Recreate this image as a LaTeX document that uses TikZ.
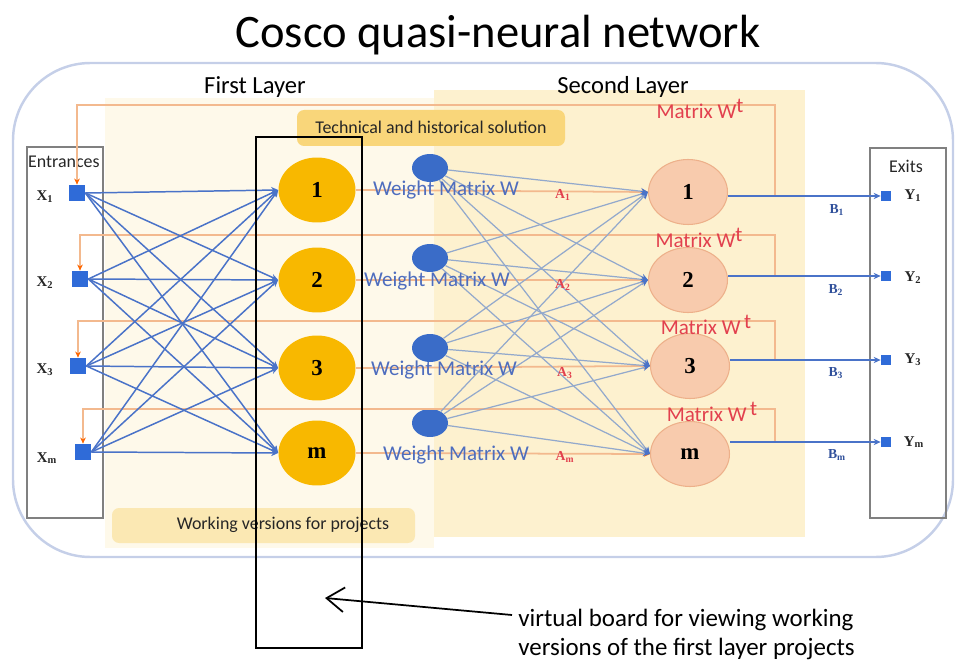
\documentclass[tikz,border=0pt]{standalone}
\usepackage{fontspec}
\setmainfont{Carlito}
\newfontfamily\numfont{Liberation Serif}
\usetikzlibrary{arrows.meta,shapes.geometric}

\definecolor{frameblue}{HTML}{C5CFE8}
\definecolor{creamA}{HTML}{FEF9EA}
\definecolor{creamB}{HTML}{FDF1CF}
\definecolor{techY}{HTML}{F9D67A}
\definecolor{workY}{HTML}{FBE8B3}
\definecolor{gold}{HTML}{F8B800}
\definecolor{peach}{HTML}{F8CBAD}
\definecolor{peachline}{HTML}{EDB08A}
\definecolor{sqblue}{HTML}{2F6BD8}
\definecolor{wblue}{HTML}{3A6CC8}
\definecolor{linkblue}{HTML}{4A73C8}
\definecolor{wlink}{HTML}{93A9CC}
\definecolor{fbor}{HTML}{F3B98E}
\definecolor{txtblue}{HTML}{4E6DBE}
\definecolor{txtred}{HTML}{E2404E}
\definecolor{boxgray}{HTML}{808080}
\definecolor{bblue}{HTML}{2F4F9A}

\begin{document}
\begin{tikzpicture}[x=0.02cm,y=-0.02cm,
  tip/.style={-{Stealth[length=4pt,width=3.6pt]}},
  inlink/.style={draw=linkblue, line width=0.85pt, tip},
  wlinkst/.style={draw=wlink, line width=0.7pt, -{Stealth[length=4pt,width=3.6pt,color=linkblue]}},
  outlink/.style={draw=linkblue, line width=1.1pt, tip},
  aline/.style={draw=fbor, line width=1pt, -{Stealth[length=3.5pt,width=3.2pt,color=orange!80!red]}},
  fbline/.style={draw=fbor, line width=0.9pt, -{Stealth[length=3.5pt,width=3.2pt,color=orange!80!red]}},
  insq/.style={fill=sqblue, minimum size=0.32cm, inner sep=0pt},
  outsq/.style={fill=sqblue, minimum size=0.2cm, inner sep=0pt},
  firstnode/.style={ellipse, fill=gold, minimum width=1.54cm, minimum height=1.3cm, inner sep=0pt,
    font=\numfont\bfseries\fontsize{13}{13}\selectfont},
  secondnode/.style={ellipse, fill=peach, draw=peachline, line width=0.6pt, minimum width=1.58cm,
    minimum height=1.3cm, inner sep=0pt, font=\numfont\bfseries\fontsize{13}{13}\selectfont},
  wnode/.style={ellipse, fill=wblue, minimum width=0.72cm, minimum height=0.56cm, inner sep=0pt},
  xlab/.style={font=\numfont\bfseries\fontsize{8.5}{9}\selectfont, text=black!85},
  alab/.style={font=\numfont\bfseries\fontsize{7.8}{8}\selectfont, text=txtred},
  blab/.style={font=\numfont\bfseries\fontsize{7.8}{8}\selectfont, text=bblue},
  wlab/.style={font=\fontsize{12}{12}\selectfont, text=txtblue},
  mlab/.style={font=\fontsize{12}{12}\selectfont, text=txtred},
  graybox/.style={draw=boxgray, line width=0.7pt},
  bandlab/.style={font=\fontsize{10.2}{11}\selectfont, text=black!85}
]
\useasboundingbox (0,0) rectangle (960,662);

% title
\node[font=\fontsize{26.5}{30}\selectfont] (title) at (498,35) {Cosco quasi-neural network};

% outer frame and layer backgrounds
\draw[frameblue, line width=1.4pt, rounded corners=1.55cm] (13,63) rectangle (953,557);
\fill[creamA] (105,98) rectangle (434,548);
\fill[creamB] (434,90) rectangle (805,537);
\node[font=\fontsize{14}{16}\selectfont] (l1) at (255,87) {First Layer};
\node[font=\fontsize{14}{16}\selectfont] (l2) at (623,87) {Second Layer};

% labelled bands
\fill[techY, rounded corners=4pt] (297,110) rectangle (565,146);
\node[bandlab] (tech) at (431,127) {Technical and historical solution};
\fill[workY, rounded corners=4pt] (112,508) rectangle (415,543);
\node[bandlab] (work) at (283,525) {Working versions for projects};

% entrance and exit boxes
\draw[graybox] (27,147) rectangle (103,518);
\node[bandlab, anchor=west] (ent) at (22,162) {Entrances};
\draw[graybox] (870,148) rectangle (946,518);
\node[bandlab] (ex) at (906,166) {Exits};

% input squares and labels
\node[insq] (x1) at (77,193) {};
\node[insq] (x2) at (80,279) {};
\node[insq] (x3) at (78,366) {};
\node[insq] (x4) at (83,452) {};
\node[xlab] at (45,197) {X\textsubscript{1}};
\node[xlab] at (45,283) {X\textsubscript{2}};
\node[xlab] at (45,370) {X\textsubscript{3}};
\node[xlab] at (47,458) {X\textsubscript{m}};

% first layer
\node[firstnode] (f1) at (317,190) {1};
\node[firstnode] (f2) at (317,280) {2};
\node[firstnode] (f3) at (317,368) {3};
\node[firstnode] (f4) at (317,453) {m};

% weight nodes
\node[wnode] (w1) at (430,168) {};
\node[wnode] (w2) at (430,258) {};
\node[wnode] (w3) at (430,348) {};
\node[wnode] (w4) at (430,423) {};

% second layer
\node[secondnode] (s1) at (688,192) {1};
\node[secondnode] (s2) at (688,280) {2};
\node[secondnode] (s3) at (690,366) {3};
\node[secondnode] (s4) at (690,454) {m};

% exit squares and labels
\node[outsq] (y1) at (886,196) {};
\node[outsq] (y2) at (886,276) {};
\node[outsq] (y3) at (886,360) {};
\node[outsq] (y4) at (886,442) {};
\node[xlab] at (913,196) {Y\textsubscript{1}};
\node[xlab] at (913,278) {Y\textsubscript{2}};
\node[xlab] at (913,360) {Y\textsubscript{3}};
\node[xlab] at (914,442) {Y\textsubscript{m}};

% feedback taps on the output lines
\coordinate (t1) at (775,196);
\coordinate (t2) at (775,276);
\coordinate (t3) at (775,360);
\coordinate (t4) at (775,442);

% feedback loops (transposed matrix)
\draw[fbline] (t1) -- (775,105) -| (x1.north);
\draw[fbline] (t2) -- (775,235) -| (x2.north);
\draw[fbline] (t3) -- (775,321) -| (x3.north);
\draw[fbline] (t4) -- (775,409) -| (x4.north);

% direct first-to-second layer lines
\foreach \i in {1,...,4}{\draw[aline] (f\i.east) -- (s\i.west);}

% entrances to first layer
\foreach \i in {1,...,4}{\foreach \j in {1,...,4}{\draw[inlink] (x\i.east) -- (f\j.west);}}

% weight nodes to second layer
\foreach \i in {1,...,4}{\foreach \j in {1,...,4}{\draw[wlinkst] (w\i) -- (s\j.west);}}

% outputs
\foreach \i in {1,...,4}{\draw[outlink] (s\i.east |- y\i) -- (y\i.west);}

% labels on the lines
\node[wlab] at (446,190) {Weight Matrix W};
\node[wlab] at (437,281) {Weight Matrix W};
\node[wlab] at (444,370) {Weight Matrix W};
\node[wlab] at (456,455) {Weight Matrix W};
\node[alab] at (563,195) {A\textsubscript{1}};
\node[alab] at (563,285) {A\textsubscript{2}};
\node[alab] at (565,373) {A\textsubscript{3}};
\node[alab] at (565,457) {A\textsubscript{m}};
\node[mlab] at (700,109) {Matrix W\raisebox{0.55ex}{t}};
\node[mlab] at (699,238) {Matrix W\raisebox{0.55ex}{t}};
\node[mlab] at (706,325) {Matrix W\,\raisebox{0.55ex}{t}};
\node[mlab] at (712,412) {Matrix W\,\raisebox{0.55ex}{t}};
\node[blab] at (837,210) {B\textsubscript{1}};
\node[blab] at (836,290) {B\textsubscript{2}};
\node[blab] at (836,373) {B\textsubscript{3}};
\node[blab] at (837,455) {B\textsubscript{m}};

% virtual board
\node[draw=black, line width=1.1pt, minimum width=2.12cm, minimum height=10.22cm, inner sep=0pt]
  (board) at (309,392.5) {};
\node[font=\fontsize{14.2}{16.4}\selectfont, align=left, anchor=north west, inner sep=0pt] (note) at (518,609)
  {virtual board for viewing working\\versions of the first layer projects};
\coordinate (pt) at (325,598);
\draw[black, line width=1pt, -{Straight Barb[length=10pt,width=14pt]}] (note.north west) ++(-6,6) -- (pt);
\end{tikzpicture}
\end{document}
